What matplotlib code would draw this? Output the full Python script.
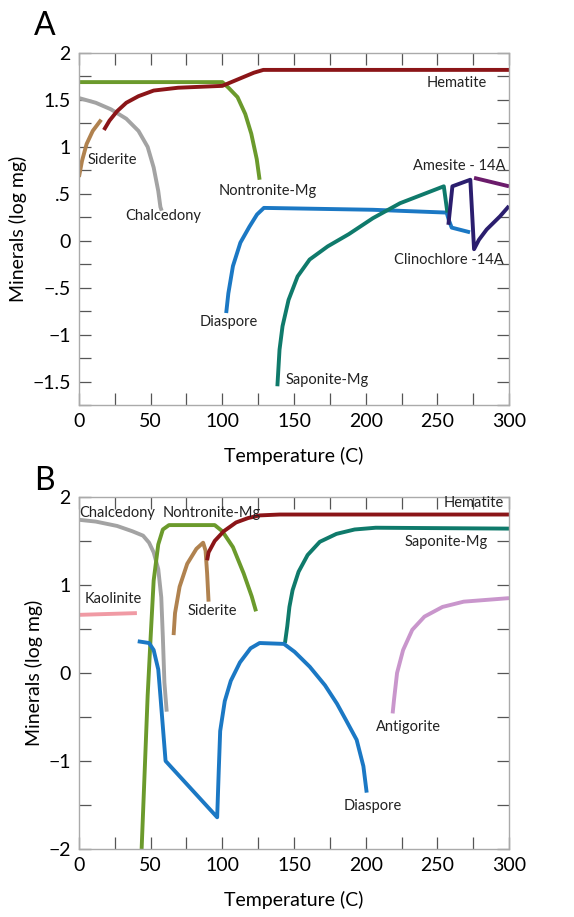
import matplotlib
matplotlib.use("Agg")
import matplotlib.pyplot as plt
from matplotlib.ticker import MultipleLocator, FuncFormatter

# ---------------- Panel A ----------------
a_hematite_t = [17.4, 21.3, 26.6, 33, 41.5, 52.1, 69.1, 100, 122, 128.6, 300]
a_hematite_v = [1.18, 1.28, 1.38, 1.47, 1.54, 1.60, 1.63, 1.65, 1.79, 1.82, 1.82]
a_nontronite_t = [0, 100, 104.3, 110.6, 116, 120.2, 124, 126]
a_nontronite_v = [1.69, 1.69, 1.63, 1.53, 1.35, 1.14, 0.87, 0.65]
a_chalcedony_t = [0, 11.7, 22.3, 33, 41.5, 47.9, 52.1, 55.3, 56.8, 57.7]
a_chalcedony_v = [1.52, 1.47, 1.40, 1.30, 1.17, 1.00, 0.78, 0.53, 0.36, 0.32]
a_siderite_t = [0, 2.1, 5.3, 9.6, 15.5]
a_siderite_v = [0.68, 0.85, 1.03, 1.17, 1.29]
a_diaspore_t = [102.7, 104.2, 107.4, 112.6, 118.9, 124.2, 129, 205, 256.5, 258, 260, 272.8]
a_diaspore_v = [-0.77, -0.56, -0.27, -0.02, 0.15, 0.28, 0.35, 0.33, 0.30, 0.22, 0.14, 0.09]
a_saponite_t = [138.4, 139.9, 142, 146.2, 152.5, 160.9, 173.5, 188.2, 205, 224, 254.5, 257]
a_saponite_v = [-1.55, -1.16, -0.91, -0.63, -0.38, -0.20, -0.06, 0.07, 0.24, 0.40, 0.58, 0.30]
a_clino_t = [257.7, 260.5, 273, 275.6, 279, 284.4, 293.7, 300]
a_clino_v = [0.17, 0.58, 0.65, -0.09, 0.01, 0.12, 0.26, 0.37]
a_amesite_t = [275.6, 300]
a_amesite_v = [0.67, 0.58]

# ---------------- Panel B ----------------
b_chalcedony_t = [0, 11.7, 26.6, 37.2, 44.7, 48.9, 52.1, 55.3, 57.4, 58.5, 59.6, 61.2]
b_chalcedony_v = [1.74, 1.72, 1.67, 1.61, 1.56, 1.48, 1.37, 1.18, 0.86, 0.41, -0.11, -0.44]
b_nontronite_t = [43.7, 47.9, 50, 52.1, 55.3, 58.5, 62.8, 94.7, 100, 107.4, 114.9, 120.5, 123.5]
b_nontronite_v = [-2.0, -0.26, 0.41, 1.05, 1.46, 1.63, 1.68, 1.68, 1.61, 1.43, 1.13, 0.87, 0.70]
b_siderite_t = [66, 67, 70.2, 75.5, 81.9, 86.6, 88.3, 89.4, 90.4]
b_siderite_v = [0.43, 0.68, 0.98, 1.24, 1.41, 1.48, 1.39, 1.13, 0.81]
b_hematite_t = [89.4, 90.4, 94.7, 101, 109.6, 118, 126, 140, 300]
b_hematite_v = [1.28, 1.37, 1.50, 1.61, 1.71, 1.76, 1.79, 1.80, 1.80]
b_saponite_t = [143.7, 145.3, 146.8, 149, 153.2, 159.5, 168, 179.6, 192.3, 207, 300]
b_saponite_v = [0.34, 0.53, 0.75, 0.94, 1.15, 1.34, 1.49, 1.58, 1.63, 1.65, 1.64]
b_kaolinite_t = [0, 40.4]
b_kaolinite_v = [0.66, 0.68]
b_diaspore_t = [41, 48.9, 52.1, 55.3, 56.8, 60.4, 96.4, 97.5, 98.5, 101.7, 105.9, 112.3,
                119.7, 126, 143, 150.4, 161, 171.6, 180, 186.4, 193.7, 198.4, 200.7]
b_diaspore_v = [0.36, 0.34, 0.26, 0.04, -0.26, -1.00, -1.64, -1.11, -0.66, -0.32, -0.09, 0.12,
                0.28, 0.34, 0.33, 0.24, 0.07, -0.14, -0.35, -0.54, -0.76, -1.06, -1.36]
b_antigorite_t = [218.8, 219.8, 221.9, 226.1, 232.5, 241, 253.6, 268.4, 300]
b_antigorite_v = [-0.46, -0.30, 0.0, 0.26, 0.49, 0.64, 0.75, 0.81, 0.85]

C_HEM = "#8b1518"
C_NON = "#6b9a2c"
C_CHA = "#a3a3a3"
C_SID = "#b0824f"
C_DIA = "#1b78c4"
C_SAP = "#0f7a6b"
C_CLI = "#2b1e6e"
C_AME = "#6b1b6b"
C_KAO = "#f09aa4"
C_ANT = "#c996cc"

plt.rcParams["font.family"] = ["Lato", "DejaVu Sans"]
LW = 2.8


def fmt_a(v, pos):
    if abs(v * 2 - round(v * 2)) > 1e-6:
        return ""
    if abs(v) < 1e-9:
        return "0"
    if abs(v - round(v)) < 1e-6:
        return f"{int(round(v))}".replace("-", "\u2212")
    s = f"{v:.1f}"
    if s.startswith("0"):
        s = s[1:]
    elif s.startswith("-0"):
        s = "\u2212" + s[2:]
    return s.replace("-", "\u2212")


def fmt_b(v, pos):
    if abs(v - round(v)) > 1e-6:
        return ""
    return f"{int(round(v))}".replace("-", "\u2212")


def fmt_x(v, pos):
    return f"{int(v)}" if int(round(v)) % 50 == 0 else ""


def style(ax, ystep, yfmt):
    ax.set_xlim(0, 300)
    ax.xaxis.set_major_locator(MultipleLocator(25))
    ax.xaxis.set_major_formatter(FuncFormatter(fmt_x))
    ax.yaxis.set_major_locator(MultipleLocator(ystep))
    ax.yaxis.set_major_formatter(FuncFormatter(yfmt))
    ax.tick_params(direction="in", length=8.5, width=0.9, color="#555555",
                   top=True, right=True, labelsize=14, pad=6)
    for sp in ax.spines.values():
        sp.set_color("#aaaaaa")
        sp.set_linewidth(1.0)
    ax.set_xlabel("Temperature (C)", fontsize=14, labelpad=12)
    ax.set_ylabel("Minerals (log mg)", fontsize=14, labelpad=4)


fig = plt.figure(figsize=(5.74, 9.17), dpi=100)
axA = fig.add_axes([0.1376, 0.5583, 0.7492, 0.3839])
axB = fig.add_axes([0.1376, 0.0742, 0.7492, 0.3839])

# Panel A lines
for t, v, c in [
    (a_chalcedony_t, a_chalcedony_v, C_CHA),
    (a_siderite_t, a_siderite_v, C_SID),
    (a_nontronite_t, a_nontronite_v, C_NON),
    (a_hematite_t, a_hematite_v, C_HEM),
    (a_diaspore_t, a_diaspore_v, C_DIA),
    (a_saponite_t, a_saponite_v, C_SAP),
    (a_amesite_t, a_amesite_v, C_AME),
    (a_clino_t, a_clino_v, C_CLI),
]:
    axA.plot(t, v, color=c, lw=LW, solid_capstyle="butt", solid_joinstyle="round")
axA.set_ylim(-1.75, 2)
style(axA, 0.25, fmt_a)

lab = dict(fontsize=10.5, color="#222222", ha="center", va="center")
axA.text(263.7, 1.68, "Hematite", **lab)
axA.text(6, 0.86, "Siderite", **{**lab, "ha": "left"})
axA.text(58.6, 0.26, "Chalcedony", **lab)
axA.text(132, 0.53, "Nontronite-Mg", **lab)
axA.text(265, 0.80, "Amesite - 14A", **lab)
axA.text(257.7, -0.21, "Clinochlore -14A", **lab)
axA.text(104.3, -0.87, "Diaspore", **lab)
axA.text(173, -1.48, "Saponite-Mg", **lab)

# Panel B lines
for t, v, c in [
    (b_kaolinite_t, b_kaolinite_v, C_KAO),
    (b_chalcedony_t, b_chalcedony_v, C_CHA),
    (b_nontronite_t, b_nontronite_v, C_NON),
    (b_siderite_t, b_siderite_v, C_SID),
    (b_hematite_t, b_hematite_v, C_HEM),
    (b_saponite_t, b_saponite_v, C_SAP),
    (b_diaspore_t, b_diaspore_v, C_DIA),
    (b_antigorite_t, b_antigorite_v, C_ANT),
]:
    axB.plot(t, v, color=c, lw=LW, solid_capstyle="butt", solid_joinstyle="round")
axB.set_ylim(-2, 2)
style(axB, 0.5, fmt_b)

axB.text(275.6, 1.93, "Hematite", **lab)
axB.text(26.5, 1.82, "Chalcedony", **lab)
axB.text(92.5, 1.82, "Nontronite-Mg", **lab)
axB.text(256.5, 1.49, "Saponite-Mg", **lab)
axB.text(23.7, 0.84, "Kaolinite", **lab)
axB.text(93.3, 0.70, "Siderite", **lab)
axB.text(229.8, -0.61, "Antigorite", **lab)
axB.text(205, -1.51, "Diaspore", **lab)

fig.text(0.078, 0.972, "A", fontsize=23, ha="center", va="center")
fig.text(0.078, 0.476, "B", fontsize=23, ha="center", va="center")

fig.savefig("out.png", dpi=100)
